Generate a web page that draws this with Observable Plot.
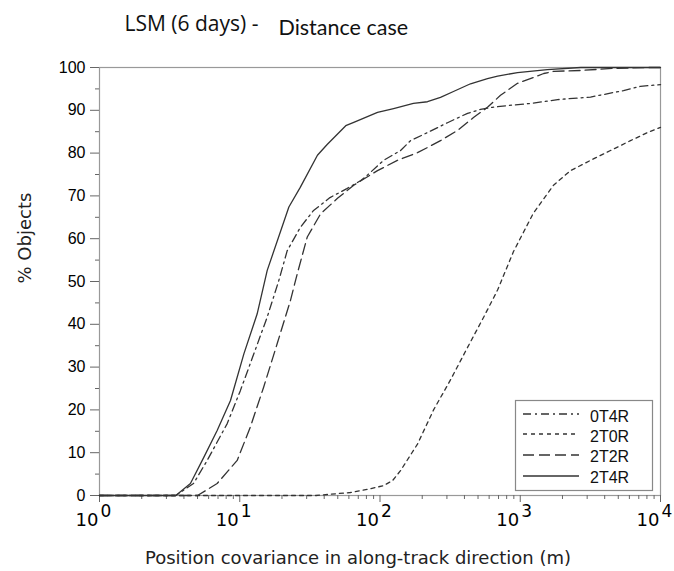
<!DOCTYPE html>
<html>
<head>
<meta charset="utf-8">
<script src="https://cdn.jsdelivr.net/npm/d3@7"></script>
<script src="https://cdn.jsdelivr.net/npm/@observablehq/plot@0.6"></script>
<style>
  html, body { margin: 0; padding: 0; background: #fff; }
  #chart { width: 674px; height: 571px; }
</style>
</head>
<body>
<div id="chart"></div>
<script>
// ---- data ----
const seriesNames = ["0T4R", "2T0R", "2T2R", "2T4R"];

const x0T4R = [1, 3.5, 4.68, 5.86, 8.14, 10.1, 12.6, 15.7, 18.9, 21.8, 27.1, 33.6, 44, 58, 73, 81, 106, 140, 165, 218, 303, 421, 521, 634, 811, 1180, 1850, 3170, 5450, 7200, 10000];
const y0T4R = [0, 0, 2.8, 8.2, 16.8, 24.5, 33.1, 41.7, 50, 57.2, 62.7, 66.6, 69.6, 71.7, 73.6, 74.8, 78.3, 80.6, 82.9, 84.8, 87.1, 89.3, 90.2, 90.7, 91.1, 91.6, 92.5, 93.1, 94.6, 95.6, 96];

const x2T0R = [1, 35, 61.6, 85.5, 106, 123, 140, 185, 241, 318, 421, 547, 689, 895, 1242, 1726, 2282, 3170, 4396, 6108, 8070, 10000];
const y2T0R = [0, 0, 0.7, 1.6, 2.3, 3.5, 5.8, 12, 20, 27, 34.6, 41.6, 48, 57, 66, 72.5, 75.9, 78.3, 80.6, 82.9, 84.8, 86];

const x2T2R = [1, 5.0, 6.9, 9.59, 11.9, 14.8, 18.5, 23, 25.7, 30.3, 37.7, 50, 65, 96, 133, 185, 218, 270, 357, 464, 584, 723, 956, 1180, 1470, 1730, 2690, 4620, 8070, 10000];
const y2T2R = [0, 0, 2.8, 8.2, 16, 25.3, 35.5, 45.6, 51.8, 60.4, 65.8, 69.5, 72.5, 75.9, 78.3, 80.1, 81.3, 82.9, 85.3, 88.3, 90.7, 93.5, 96.3, 97.4, 98.6, 99.1, 99.3, 99.8, 100, 100];

const x2T4R = [1, 3.5, 4.45, 5.54, 6.9, 8.59, 10.7, 13.3, 15.7, 22.4, 27, 35.8, 42, 57, 65, 96, 125, 173, 218, 270, 334, 442, 584, 690, 956, 1560, 2700, 10000];
const y2T4R = [0, 0, 2.8, 8.9, 15.2, 22.2, 33.1, 42.4, 52.6, 67.4, 72, 79.5, 82, 86.4, 87.2, 89.5, 90.4, 91.6, 92, 93, 94.4, 96.2, 97.4, 98, 98.8, 99.5, 100, 100];

const yMajorTicks = [0, 10, 20, 30, 40, 50, 60, 70, 80, 90, 100];
const yMinorTicks = [5, 15, 25, 35, 45, 55, 65, 75, 85, 95];
const xMajorTicks = [1, 10, 100, 1000, 10000];
const xTickBase = "10";
const xTickExponents = ["0", "1", "2", "3", "4"];
const xMinorTicks = [1, 10, 100, 1000].flatMap(d => [2, 3, 4, 5, 6, 7, 8, 9].map(k => k * d));

const titleLeft = "LSM (6 days) -";
const titleRight = "Distance case";
const xLabel = "Position covariance in along-track direction (m)";
const yLabel = "% Objects";

// ---- build tables ----
const toRows = (xs, ys) => xs.map((x, i) => ({x, y: ys[i]}));
const rows = {
  "0T4R": toRows(x0T4R, y0T4R),
  "2T0R": toRows(x2T0R, y2T0R),
  "2T2R": toRows(x2T2R, y2T2R),
  "2T4R": toRows(x2T4R, y2T4R)
};
const dashes = {"0T4R": "8,4,2,4", "2T0R": "4,4", "2T2R": "11,5", "2T4R": null};
const lineColor = "#333";
const xTickRows = xMajorTicks.map((v, i) => ({v, e: xTickExponents[i]}));

const svg = Plot.plot({
  width: 674,
  height: 571,
  marginTop: 67,
  marginBottom: 76,
  marginLeft: 99,
  marginRight: 14,
  style: {fontFamily: "Liberation Sans, Arial, sans-serif", fontSize: "16px", color: "#000", background: "#fff"},
  x: {type: "log", domain: [1, 10000]},
  y: {domain: [0, 100]},
  marks: [
    Plot.frame({stroke: "#999", strokeWidth: 1.2}),
    Plot.axisY(yMajorTicks, {tickSize: 9, tickPadding: 5, stroke: "#666", fontSize: 16, fill: "#000", label: null}),
    Plot.axisY(yMinorTicks, {tickSize: 4, tickFormat: () => "", stroke: "#666", label: null}),
    Plot.axisX(xMajorTicks, {tickSize: 7, tickFormat: () => "", stroke: "#666", label: null}),
    Plot.axisX(xMinorTicks, {tickSize: 4, tickFormat: () => "", stroke: "#666", label: null}),
    Plot.text(xTickRows, {x: "v", text: () => xTickBase, frameAnchor: "bottom", lineAnchor: "bottom", textAnchor: "end", dx: -1, dy: 30, fontSize: 18, fontFamily: "DejaVu Sans", fill: "#000"}),
    Plot.text(xTickRows, {x: "v", text: "e", frameAnchor: "bottom", lineAnchor: "bottom", textAnchor: "start", dx: 1, dy: 21, fontSize: 17, fontFamily: "DejaVu Sans", fill: "#000"}),
    ...seriesNames.map(name => Plot.line(rows[name], {x: "x", y: "y", stroke: lineColor, strokeWidth: 1.3, strokeDasharray: dashes[name]})),
    Plot.text([xLabel], {frameAnchor: "bottom", lineAnchor: "bottom", dx: -22, dy: 68, fontSize: 18, fontFamily: "DejaVu Sans", fill: "#222"}),
    Plot.text([yLabel], {frameAnchor: "left", rotate: -90, dx: -74, dy: 2, fontSize: 18, fontFamily: "DejaVu Sans", fill: "#222"}),
    Plot.text([titleLeft], {frameAnchor: "top-left", lineAnchor: "bottom", textAnchor: "start", dx: 25, dy: -37, fontSize: 21, fontFamily: "Open Sans", fill: "#111"}),
    Plot.text([titleRight], {frameAnchor: "top-left", lineAnchor: "bottom", textAnchor: "start", dx: 179, dy: -33, fontSize: 21.5, fontFamily: "Lato", fill: "#111"})
  ]
});

// ---- legend box ----
const g = d3.select(svg).append("g").attr("class", "legend").attr("text-anchor", "start");
g.append("rect").attr("x", 515.5).attr("y", 400.5).attr("width", 137).attr("height", 90)
  .attr("fill", "#fff").attr("stroke", "#888").attr("stroke-width", 1.2);
const lineYs = [414, 434, 455, 476];
const textYs = [422, 442, 462, 483];
seriesNames.forEach((name, i) => {
  g.append("line").attr("x1", 523).attr("x2", 579).attr("y1", lineYs[i]).attr("y2", lineYs[i])
    .attr("stroke", lineColor).attr("stroke-width", 1.3)
    .attr("stroke-dasharray", dashes[name]);
  g.append("text").attr("x", 590).attr("y", textYs[i]).text(name)
    .attr("text-anchor", "start")
    .attr("font-family", "Liberation Sans, Arial, sans-serif").attr("font-size", 16).attr("fill", "#111");
});

document.getElementById("chart").appendChild(svg);
</script>
</body>
</html>
